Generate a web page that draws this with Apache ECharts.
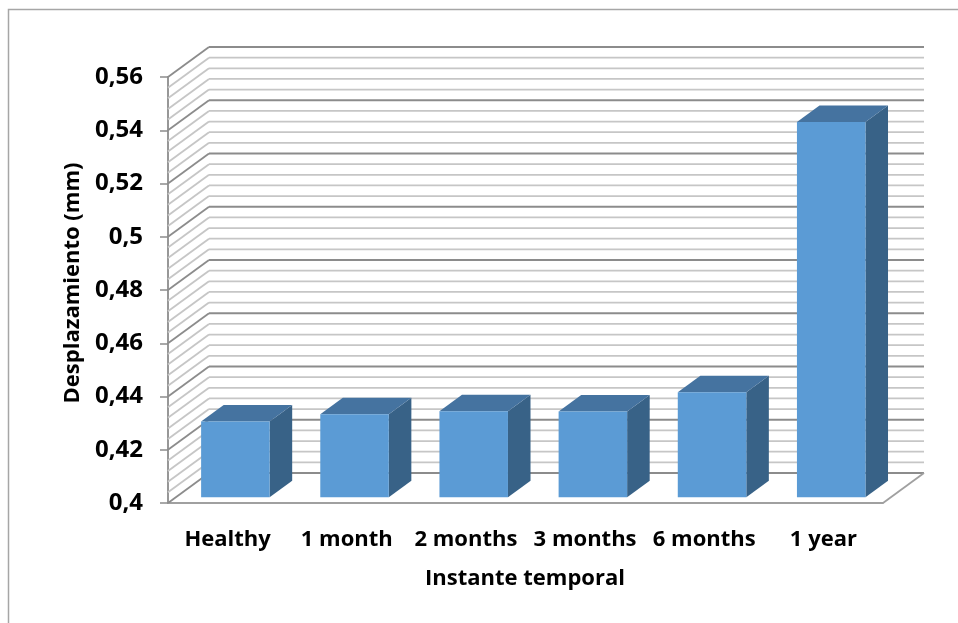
<!DOCTYPE html>
<html>
<head>
<meta charset="utf-8">
<style>
  html, body { margin: 0; padding: 0; background: #ffffff; }
  #chart { width: 958px; height: 623px; }
</style>
<script src="https://cdn.jsdelivr.net/npm/echarts@6/dist/echarts.min.js"></script>
</head>
<body>
<div id="chart"></div>
<script>
// Displacement per time instant
const categories = ['Healthy', '1 month', '2 months', '3 months', '6 months', '1 year'];
const displacement = [0.4285, 0.4312, 0.4323, 0.4322, 0.4395, 0.5410];

// Value axis range and tick steps
const yMin = 0.4;
const yMax = 0.56;
const yStep = 0.02;
const yMinorStep = 0.004;

// Oblique depth vector of the 3D box (pixels for full depth)
const DX = 41, DY = -30;
const BAR_Z0 = 0.19, BAR_Z1 = 0.74, BAR_FRAC = 0.575;

const FONT = '"Open Sans"';
const FSIZE = 22;
const MAJOR = '#8c8c8c', MINOR = '#c6c6c6';

// Gridline values of the walls (every minor tick of the value axis)
const wallTicks = [];
for (let k = 0; yMin + k * yMinorStep <= yMax + 1e-9; k++) {
  wallTicks.push([0, +(yMin + k * yMinorStep).toFixed(4), k]);
}

const chart = echarts.init(document.getElementById('chart'), null, { renderer: 'canvas' });

function renderWall(params, api) {
  const cs = params.coordSys;
  const v = api.value(1);
  const k = api.value(2);
  const major = k % 5 === 0;
  const y = api.coord([0, v])[1];
  const x0 = cs.x, x1 = cs.x + cs.width;
  const style = { stroke: major ? MAJOR : MINOR, lineWidth: 1.8 };
  const children = [
    { type: 'line', shape: { x1: x0, y1: y, x2: x0 + DX, y2: y + DY }, style: style },
    { type: 'line', shape: { x1: x0 + DX, y1: y + DY, x2: x1 + DX, y2: y + DY }, style: style }
  ];
  if (k === 0) {
    // right edge of the floor
    children.push({ type: 'line', shape: { x1: x1, y1: y, x2: x1 + DX, y2: y + DY },
      style: { stroke: '#a0a0a0', lineWidth: 1.8 } });
  }
  return { type: 'group', children: children };
}

function renderBar(params, api) {
  const i = api.value(0);
  const v = api.value(1);
  const base = api.coord([i, yMin]);
  const top = api.coord([i, v]);
  const bw = api.size([1, 0])[0] * BAR_FRAC;
  const x0 = base[0] - bw / 2 + BAR_Z0 * DX;
  const x1 = x0 + bw;
  const yb = base[1] + BAR_Z0 * DY;
  const yt = top[1] + BAR_Z0 * DY;
  const ddx = (BAR_Z1 - BAR_Z0) * DX;
  const ddy = (BAR_Z1 - BAR_Z0) * DY;
  return {
    type: 'group',
    children: [
      { type: 'polygon', shape: { points: [[x1, yt], [x1 + ddx, yt + ddy], [x1 + ddx, yb + ddy], [x1, yb]] },
        style: { fill: '#386287' } },
      { type: 'polygon', shape: { points: [[x0, yt], [x1, yt], [x1 + ddx, yt + ddy], [x0 + ddx, yt + ddy]] },
        style: { fill: '#4573a0' } },
      { type: 'rect', shape: { x: x0, y: yt, width: bw, height: yb - yt },
        style: { fill: '#5b9bd5' } }
    ]
  };
}

chart.setOption({
  animation: false,
  backgroundColor: '#ffffff',
  grid: { left: 168, right: 75, top: 77, bottom: 120 },
  xAxis: {
    type: 'category',
    data: categories,
    axisLine: { show: true, lineStyle: { color: '#a0a0a0', width: 1.8 } },
    axisTick: { show: false },
    axisLabel: { color: '#000', fontFamily: FONT, fontWeight: 'bold', fontSize: FSIZE, margin: 26, interval: 0 }
  },
  yAxis: {
    type: 'value',
    min: yMin,
    max: yMax,
    interval: yStep,
    axisLine: { show: true, lineStyle: { color: '#8c8c8c', width: 1.8 } },
    axisTick: { show: true, length: 8, lineStyle: { color: '#8c8c8c', width: 1.5 } },
    splitLine: { show: false },
    axisLabel: {
      color: '#000', fontFamily: FONT, fontWeight: 'bold', fontSize: 24, margin: 25,
      formatter: function (val) { return String(+val.toFixed(2)).replace('.', ','); }
    }
  },
  graphic: [
    { type: 'rect', shape: { x: 8.5, y: 9.5, width: 1200, height: 1200 },
      style: { fill: 'none', stroke: '#a6a6a6', lineWidth: 1.5 }, z: -1 },
    { type: 'text', x: 73, y: 283, rotation: Math.PI / 2,
      style: { text: 'Desplazamiento (mm)', fill: '#000', font: 'bold ' + FSIZE + 'px ' + FONT,
        align: 'center', verticalAlign: 'middle' } },
    { type: 'text', x: 525, y: 579,
      style: { text: 'Instante temporal', fill: '#000', font: 'bold ' + FSIZE + 'px ' + FONT,
        align: 'center', verticalAlign: 'middle' } }
  ],
  series: [
    {
      type: 'custom',
      name: 'walls',
      renderItem: renderWall,
      data: wallTicks,
      encode: { x: 0, y: 1 },
      z: 1,
      silent: true
    },
    {
      type: 'custom',
      name: 'Desplazamiento',
      renderItem: renderBar,
      data: displacement.map(function (v, i) { return [i, v]; }),
      encode: { x: 0, y: 1 },
      z: 3
    }
  ]
});
</script>
</body>
</html>
